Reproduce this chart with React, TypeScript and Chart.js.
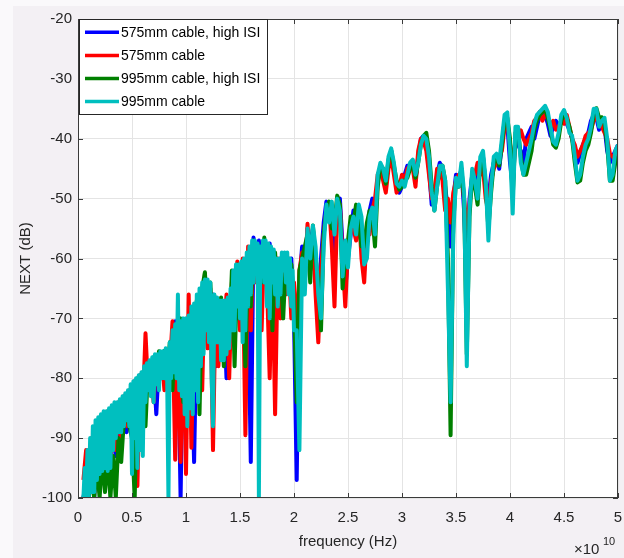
import React, { useEffect, useRef } from "react";
import { Chart, registerables } from "chart.js";

Chart.register(...registerables);

// frequency grids (units of 1e10 Hz)
// coarse grid: 0.05 .. 5.00 step 0.025 (199 samples)
// fine grid used by the 995mm cable trace: 0.05 .. 2.00 step 0.0125, then 2.025 .. 5.00 step 0.025
const coarseStart = 0.05;
const coarseStep = 0.025;
const fineStart = 0.05;
const fineStep = 0.0125;
const fineCount = 157;

const xTicks = [0, 0.5, 1, 1.5, 2, 2.5, 3, 3.5, 4, 4.5, 5];
const yTicks = [-100, -90, -80, -70, -60, -50, -40, -30, -20];

const seriesLabels = ["575mm cable, high ISI", "575mm cable", "995mm cable, high ISI", "995mm cable"];
const seriesColors = ["#0000ff", "#ff0000", "#008000", "#00bfbf"];

const blue575HighISI = [
  -100, -97, -100, -92, -100, -89, -99, -87, -97, -86,
  -96, -85, -93, -84.5, -91, -83.5, -89, -82.5, -90, -80.5,
  -86, -79.5, -84, -78, -80, -77.5, -78, -86, -77, -80,
  -76, -79, -75.5, -80, -70.5, -74, -100, -71, -80, -70.5,
  -76, -94, -69, -75, -66, -72, -64, -70, -66, -78,
  -67, -72, -68, -80, -67, -74, -62, -70, -61, -68,
  -61, -66, -94, -56.5, -60, -57, -66, -58, -62, -57.5,
  -68, -60, -64, -60, -66, -59.5, -64, -60, -70, -97,
  -64, -58, -62, -55, -58, -55, -62, -70, -60, -54,
  -50.5, -52, -52, -60, -51, -50, -58, -65, -60, -56,
  -52, -54, -51.5, -57, -62, -56, -52, -50, -54, -47,
  -44.5, -46, -48, -44, -42, -45, -48, -49, -48, -46,
  -44.5, -45, -44, -47, -43, -40, -39.5, -41, -45, -51,
  -50, -46, -44, -45, -48, -52, -58, -50, -46, -47,
  -45, -52, -63.7, -50, -46, -48, -46, -44, -43, -48,
  -50, -46, -44, -43, -45, -41, -37, -37.5, -44, -48,
  -40, -41, -42, -44, -40, -39, -38, -40, -38, -36,
  -35.5, -36, -37.5, -39.5, -38, -37, -38, -37, -36, -37.5,
  -38.5, -40, -42, -44, -42.5, -41, -40, -39, -37, -36,
  -36.5, -38.5, -37.5, -38, -42, -44, -43, -42, -41,
];

const red575 = [
  -97, -92, -98, -90, -99, -88, -97, -86.5, -96, -85.5,
  -95, -85, -92, -84, -90, -83, -88, -82, -86, -80.5,
  -98, -79.5, -85, -72.5, -82, -78, -84, -76.5, -80, -76,
  -82, -75.5, -78, -70.5, -93.6, -72, -94, -71, -96, -66,
  -91.6, -68.5, -80, -67, -82, -62.5, -75, -65, -92, -66.5,
  -78, -68, -74, -66, -80, -64, -70, -60.5, -72, -60,
  -89.5, -58, -72, -57.5, -64, -58, -72, -57, -64, -80,
  -60, -86, -60, -70, -60, -66, -60, -70, -64, -74,
  -62, -59, -64, -54.2, -62, -56, -66, -74, -62, -56,
  -52, -51, -58, -68, -52, -51, -60, -68, -58, -54,
  -55, -57, -52, -60, -64, -55, -56, -52, -50, -46,
  -45, -47, -49, -45, -43, -46, -49, -48, -46, -47,
  -45, -44.5, -45, -48, -42, -40, -40.5, -42, -46, -50,
  -49, -45, -45, -47, -52, -50, -54, -49, -47, -46,
  -46, -50, -55, -51, -47, -46, -44, -46, -45, -50,
  -52, -47, -45, -44, -43, -42, -38, -37, -41, -45,
  -40, -39, -38.6, -40, -41, -40, -39, -37, -36.5, -35.5,
  -37, -36, -36.5, -38, -37, -38.5, -38, -37, -37.5, -36,
  -38, -40, -41, -43, -42, -41, -39.5, -39, -38.5, -37,
  -36.5, -37, -38, -39, -40, -42.5, -43, -43.5, -41.5,
];

const green995HighISI = [
  -100, -98, -100, -96, -100, -94, -100, -93, -99, -93,
  -100, -93, -100, -90, -94, -87, -86, -88, -90, -100,
  -80, -90, -79, -88, -77.5, -82, -76.5, -80, -75.5, -79,
  -75.4, -80, -74, -82, -72, -78, -70, -84, -72, -80,
  -69, -76, -67, -86, -65, -62.3, -70, -64, -74, -67,
  -72, -66.5, -78, -68, -74, -62, -78, -61, -70, -62,
  -78, -59, -68, -57, -62, -59, -64, -56.5, -62, -58,
  -72, -59, -66, -62, -70, -60, -63, -61, -68, -84,
  -62, -60, -58, -56, -64, -54.5, -60, -64, -72, -56,
  -52, -50.5, -55, -54, -49.5, -51, -65, -60, -57, -53,
  -54, -51, -54, -58, -58, -54, -52, -53, -58, -48,
  -44.5, -45, -47.5, -43.5, -42, -44.5, -47, -48.5, -48, -47,
  -46.5, -45, -44, -46.5, -44, -41, -39.5, -39, -42, -48,
  -52, -48, -45, -44.5, -47, -60, -89.5, -54, -47, -48,
  -45, -50, -76, -53, -46, -48, -51, -44, -43, -48,
  -55, -49, -44, -43, -44.5, -41, -37, -36.5, -40, -50,
  -39, -38.5, -43, -46, -46, -44, -42, -38.5, -37, -36,
  -35.5, -35, -36.5, -38.5, -41, -41.5, -40, -37, -35.8, -36.5,
  -38, -40, -44, -47.3, -47, -44, -42, -41, -39, -36,
  -34.9, -36.5, -36.4, -37.5, -41, -47, -47, -44, -43,
];

// 995mm cable: 157 fine samples (0.05..2.00) followed by 120 coarse samples (2.025..5.00)
const cyan995 = [
  -100, -95, -100, -92, -100, -90, -99, -88, -99, -87,
  -97, -86.5, -96, -86, -95.5, -85.5, -95, -85.5, -95.5, -85,
  -95, -84.5, -92, -84, -90, -84, -89, -83.5, -89, -83,
  -88, -82.5, -87, -82, -88, -81, -96, -80.5, -90, -80,
  -95, -79.5, -92, -79, -93, -78, -84, -77.5, -82, -77,
  -83, -76.5, -84, -76, -81, -76, -82, -75.5, -80, -75.5,
  -80, -75, -79, -100, -74, -80, -72, -79, -71, -80,
  -66, -82, -70.5, -83, -70, -86, -70, -88, -69.5, -85,
  -68, -86, -67.5, -82, -66, -84, -65, -78, -64, -76,
  -63.5, -72, -63.5, -74, -64, -80, -88, -66, -74, -66.5,
  -74, -67, -77, -67, -77, -67, -76, -66.5, -75, -65,
  -72, -62, -72, -61, -68, -61, -70, -60.5, -74, -60,
  -72, -59, -68, -58, -66, -57, -64, -57, -62, -57.5,
  -100, -58, -63, -57, -64, -57, -68, -57.5, -70, -58,
  -64, -58.5, -66, -60, -68, -60, -66, -59, -62, -59,
  -64, -59, -66, -60, -68, -62, -72,
  -72, -92, -60, -66, -55, -60, -54.5, -58, -66, -70,
  -58, -51, -54, -50.5, -56, -50, -52, -63, -57, -61.5,
  -55, -53, -56, -51, -53, -61, -60, -53, -51.5, -56,
  -46, -44, -45, -47, -43, -41.6, -44, -47.5, -48, -47,
  -48, -46, -44, -43.5, -46, -44, -41, -39.5, -40, -43,
  -49, -52, -48, -44.5, -44.5, -47, -65, -84, -56, -46.5,
  -48, -44, -49, -78, -52, -45, -47, -50, -43, -42,
  -47, -57, -48, -43, -42.5, -44, -40, -36, -35.6, -42,
  -52.5, -38, -38, -44, -46, -44, -42, -40, -37.5, -36,
  -35.5, -35, -34.5, -35.5, -38, -40.5, -41, -39, -36, -35.2,
  -36.5, -39, -39.5, -43, -47, -46, -43, -41, -40, -38,
  -35, -35, -38, -37, -36.5, -40, -47, -46, -42, -41,
];

const seriesValues = [blue575HighISI, red575, green995HighISI, cyan995];

const FONT = "'Liberation Sans', Arial, Helvetica, sans-serif";
const TEXT = "#262626";

const decorPlugin = {
  id: "decor",
  beforeDraw(chart: any) {
    const { ctx, chartArea: a, width, height } = chart;
    ctx.save();
    ctx.fillStyle = "#f3f0f4";
    ctx.fillRect(0, 0, width, height);
    ctx.fillStyle = "#faf9fb";
    ctx.fillRect(0, 0, 13, height);
    ctx.fillRect(0, 0, width, 6);
    ctx.fillStyle = "#ffffff";
    ctx.fillRect(a.left, a.top, a.right - a.left, a.bottom - a.top);
    ctx.restore();
  },
  afterDraw(chart: any) {
    const { ctx, chartArea: a } = chart;
    const xs = chart.scales.x;
    const ys = chart.scales.y;
    ctx.save();
    // axes box
    ctx.strokeStyle = "#3a3a3a";
    ctx.lineWidth = 1;
    ctx.strokeRect(a.left + 0.5, a.top + 0.5, a.right - a.left - 1, a.bottom - a.top - 1);
    // inward tick marks
    ctx.beginPath();
    xTicks.forEach((v) => {
      const px = Math.round(xs.getPixelForValue(v)) + 0.5;
      ctx.moveTo(px, a.bottom);
      ctx.lineTo(px, a.bottom - 5);
      ctx.moveTo(px, a.top);
      ctx.lineTo(px, a.top + 5);
    });
    yTicks.forEach((v) => {
      const py = Math.round(ys.getPixelForValue(v)) + 0.5;
      ctx.moveTo(a.left, py);
      ctx.lineTo(a.left + 5, py);
      ctx.moveTo(a.right, py);
      ctx.lineTo(a.right - 5, py);
    });
    ctx.stroke();

    // legend
    const lx = a.left + 1;
    const ly = a.top;
    const lw = 189;
    const lh = 96;
    ctx.fillStyle = "#ffffff";
    ctx.fillRect(lx, ly, lw, lh);
    ctx.strokeStyle = "#262626";
    ctx.lineWidth = 1;
    ctx.strokeRect(lx + 0.5, ly + 0.5, lw - 1, lh - 1);
    ctx.font = `14px ${FONT}`;
    ctx.textBaseline = "middle";
    ctx.textAlign = "left";
    chart.data.datasets.forEach((ds: any, k: number) => {
      const y = ly + 13.3 + k * 23.1;
      ctx.strokeStyle = ds.borderColor;
      ctx.lineWidth = 3.5;
      ctx.beginPath();
      ctx.moveTo(lx + 6, y);
      ctx.lineTo(lx + 40, y);
      ctx.stroke();
      ctx.fillStyle = "#000000";
      ctx.fillText(ds.label, lx + 42, y + 0.5);
    });

    // exponent label
    ctx.fillStyle = TEXT;
    ctx.textBaseline = "alphabetic";
    ctx.font = `15px ${FONT}`;
    ctx.fillText("\u00d710", 574, 554);
    ctx.font = `11px ${FONT}`;
    ctx.fillText("10", 603, 545);
    ctx.restore();
  },
};

export default function App() {
  const canvasRef = useRef<HTMLCanvasElement | null>(null);

  useEffect(() => {
    const canvas = canvasRef.current;
    if (!canvas) return;
    const coarseFreq = blue575HighISI.map((_, i) => +(coarseStart + coarseStep * i).toFixed(4));
    const cyanFreq = cyan995.map((_, j) =>
      j < fineCount
        ? +(fineStart + fineStep * j).toFixed(4)
        : +(2.025 + coarseStep * (j - fineCount)).toFixed(4)
    );
    const freqs = [coarseFreq, coarseFreq, coarseFreq, cyanFreq];
    const datasets = seriesValues.map((vals, k) => ({
      label: seriesLabels[k],
      data: vals.map((y, i) => ({ x: freqs[k][i], y })),
      borderColor: seriesColors[k],
      backgroundColor: seriesColors[k],
      borderWidth: 4,
      borderJoinStyle: "round" as const,
      pointRadius: 0,
      fill: false,
      tension: 0,
      order: seriesValues.length - k,
    }));
    const chart = new Chart(canvas, {
      type: "line",
      data: { datasets },
      options: {
        animation: false,
        responsive: false,
        maintainAspectRatio: false,
        parsing: false,
        layout: { padding: { left: 0, top: 19, right: 6, bottom: 0 } },
        plugins: {
          legend: { display: false },
          tooltip: { enabled: false },
        },
        scales: {
          x: {
            type: "linear",
            min: 0,
            max: 5,
            afterBuildTicks: (s: any) => {
              s.ticks = xTicks.map((v) => ({ value: v }));
            },
            afterFit: (s: any) => {
              s.height = 60;
            },
            ticks: {
              autoSkip: false,
              maxRotation: 0,
              padding: 0,
              color: TEXT,
              font: { family: FONT, size: 15 },
              callback: (v: any) => String(v),
            },
            grid: { color: "#e4e4e4", drawTicks: true, tickLength: 11, tickColor: "rgba(0,0,0,0)" },
            border: { display: false },
            title: {
              display: true,
              text: "frequency (Hz)",
              color: TEXT,
              font: { family: FONT, size: 15 },
              padding: { top: 0, bottom: 7 },
            },
          },
          y: {
            type: "linear",
            min: -100,
            max: -20,
            afterBuildTicks: (s: any) => {
              s.ticks = yTicks.map((v) => ({ value: v }));
            },
            afterFit: (s: any) => {
              s.width = 78;
            },
            ticks: {
              autoSkip: false,
              padding: 6,
              color: TEXT,
              font: { family: FONT, size: 15 },
              callback: (v: any) => String(v),
            },
            grid: { color: "#e4e4e4", drawTicks: false },
            border: { display: false },
            title: {
              display: true,
              text: "NEXT (dB)",
              color: TEXT,
              font: { family: FONT, size: 15 },
              padding: { top: 17, bottom: 0 },
            },
          },
        },
      },
      plugins: [decorPlugin],
    });
    return () => chart.destroy();
  }, []);

  return (
    <div style={{ position: "fixed", left: 0, top: 0, width: 624, height: 558 }}>
      <canvas ref={canvasRef} width={624} height={558} style={{ display: "block", width: 624, height: 558 }} />
    </div>
  );
}
